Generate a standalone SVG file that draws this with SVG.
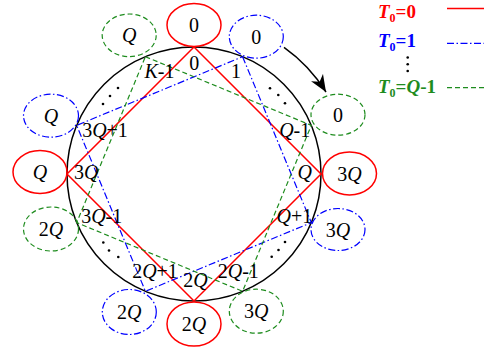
<svg xmlns="http://www.w3.org/2000/svg" width="484" height="347" viewBox="0 0 484 347">
<style>
text{font-family:"Liberation Serif","Times New Roman",serif;font-size:20px;fill:#000}
.m{text-anchor:middle}
.i{font-style:italic}
.r{fill:none;stroke:#ff0000;stroke-width:1.5}
.b{fill:none;stroke:#0000ff;stroke-width:1.2;stroke-dasharray:7 2.5 1.5 2.5}
.g{fill:none;stroke:#1e8c1e;stroke-width:1.2;stroke-dasharray:5 3}
.lg{font-size:19px;font-weight:bold}
.dot{fill:#000}
</style>
<defs>
<marker id="ah" markerWidth="20" markerHeight="16" viewBox="0 0 20 16" refX="17" refY="8" orient="auto" markerUnits="userSpaceOnUse">
<path d="M0,1 L17,8 L0,15 L5,8 Z" fill="#000"/>
</marker>
</defs>
<rect width="484" height="347" fill="#fff"/>
<circle cx="194" cy="174" r="127" fill="none" stroke="#000" stroke-width="1.5"/>
<g id="connectors">
<polygon class="r" points="194,47 321,174 194,301 67,174"/>
<polygon class="b" points="242.6,56.7 311.3,222.6 145.4,291.3 76.7,125.4"/>
<polygon class="g" points="145.4,56.7 311.3,125.4 242.6,291.3 76.7,222.6"/>
<path d="M284,47.3 A155.5,155.5 0 0 1 326,92" fill="none" stroke="#000" stroke-width="1.5" marker-end="url(#ah)"/>
</g>
<g id="n_r0"><ellipse class="r" cx="194" cy="25" rx="27" ry="21.5"/><text class="m" x="194" y="32">0</text></g>
<g id="n_r3Q"><ellipse class="r" cx="349.5" cy="173.5" rx="27" ry="21.5"/><text class="m" x="349.5" y="181">3<tspan class="i">Q</tspan></text></g>
<g id="n_r2Q"><ellipse class="r" cx="194" cy="324" rx="27" ry="22"/><text class="m" x="194" y="331">2<tspan class="i">Q</tspan></text></g>
<g id="n_rQ"><ellipse class="r" cx="40" cy="172" rx="27" ry="21.5"/><text class="m i" x="40" y="179">Q</text></g>
<g id="n_b0"><ellipse class="b" cx="256.3" cy="36.7" rx="27" ry="21.5"/><text class="m" x="256.3" y="44">0</text></g>
<g id="n_b3Q"><ellipse class="b" cx="338" cy="229.5" rx="27" ry="21"/><text class="m" x="338" y="236.5">3<tspan class="i">Q</tspan></text></g>
<g id="n_b2Q"><ellipse class="b" cx="129.3" cy="312" rx="27" ry="22.5"/><text class="m" x="129.3" y="319">2<tspan class="i">Q</tspan></text></g>
<g id="n_bQ"><ellipse class="b" cx="51" cy="115.7" rx="27.5" ry="21.5"/><text class="m i" x="51" y="122.7">Q</text></g>
<g id="n_gQ"><ellipse class="g" cx="129.2" cy="35.3" rx="27" ry="21.3"/><text class="m i" x="129.2" y="42.3">Q</text></g>
<g id="n_g0"><ellipse class="g" cx="338" cy="114.7" rx="27" ry="20.5"/><text class="m" x="338" y="121.7">0</text></g>
<g id="n_g3Q"><ellipse class="g" cx="256.3" cy="311.2" rx="27" ry="22"/><text class="m" x="256.3" y="318.2">3<tspan class="i">Q</tspan></text></g>
<g id="n_g2Q"><ellipse class="g" cx="51" cy="229" rx="27.5" ry="22"/><text class="m" x="51" y="236">2<tspan class="i">Q</tspan></text></g>
<g id="labels">
<text class="m" x="194.3" y="70">0</text>
<text class="m" x="159.5" y="78"><tspan class="i">K</tspan>-1</text>
<text class="m" x="236" y="78">1</text>
<text class="m" x="294.7" y="137"><tspan class="i">Q</tspan>-1</text>
<text class="m i" x="304.7" y="179">Q</text>
<text class="m" x="294.3" y="223"><tspan class="i">Q</tspan>+1</text>
<text class="m" x="238.3" y="278">2<tspan class="i">Q</tspan>-1</text>
<text class="m" x="195.5" y="286.5">2<tspan class="i">Q</tspan></text>
<text class="m" x="155" y="278">2<tspan class="i">Q</tspan>+1</text>
<text class="m" x="101.7" y="223">3<tspan class="i">Q</tspan>-1</text>
<text class="m" x="86.2" y="179">3<tspan class="i">Q</tspan></text>
<text class="m" x="105" y="137">3<tspan class="i">Q</tspan>+1</text>
</g>
<g id="dots">
<circle class="dot" cx="103" cy="104" r="1.3"/><circle class="dot" cx="110" cy="96" r="1.3"/><circle class="dot" cx="118" cy="88" r="1.3"/>
<circle class="dot" cx="270" cy="88.3" r="1.3"/><circle class="dot" cx="278.3" cy="95" r="1.3"/><circle class="dot" cx="285" cy="103.3" r="1.3"/>
<circle class="dot" cx="271.7" cy="256.7" r="1.3"/><circle class="dot" cx="278.5" cy="250" r="1.3"/><circle class="dot" cx="285" cy="242" r="1.3"/>
<circle class="dot" cx="103.3" cy="242.5" r="1.3"/><circle class="dot" cx="109" cy="250.5" r="1.3"/><circle class="dot" cx="118.3" cy="257" r="1.3"/>
</g>
<g id="legend">
<text class="lg" x="378" y="18" fill="#ff0000" style="fill:#ff0000"><tspan class="i">T</tspan><tspan font-size="12" dy="4">0</tspan><tspan dy="-4">=0</tspan></text>
<line x1="447" y1="8.5" x2="484" y2="8.5" class="r"/>
<text class="lg" x="378" y="46.7" style="fill:#0000ff"><tspan class="i">T</tspan><tspan font-size="12" dy="4">0</tspan><tspan dy="-4">=1</tspan></text>
<line x1="447" y1="43.3" x2="484" y2="43.3" class="b"/>
<circle class="dot" cx="407.7" cy="57.5" r="1.3"/><circle class="dot" cx="407.7" cy="64.3" r="1.3"/><circle class="dot" cx="407.7" cy="71" r="1.3"/>
<text class="lg" x="378" y="93.3" style="fill:#1e8c1e"><tspan class="i">T</tspan><tspan font-size="12" dy="4">0</tspan><tspan dy="-4">=</tspan><tspan class="i">Q</tspan>-1</text>
<line x1="447" y1="87.7" x2="484" y2="87.7" class="g"/>
</g>
</svg>
